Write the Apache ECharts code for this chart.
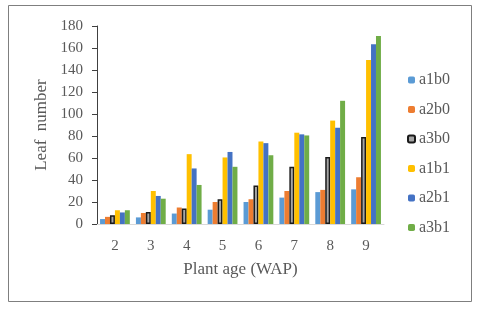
<!DOCTYPE html>
<html>
<head>
<meta charset="utf-8">
<script src="https://cdn.jsdelivr.net/npm/echarts@6/dist/echarts.min.js"></script>
<style>html,body{margin:0;padding:0;background:#fff}#c{width:480px;height:309px}</style>
</head>
<body>
<div id="c"></div>
<script>
var categories = ['2','3','4','5','6','7','8','9'];
var yTicks = [0,20,40,60,80,100,120,140,160,180];
var a1b0 = [4.5, 6, 9.5, 13, 20, 24, 29, 31.5];
var a2b0 = [6.5, 10, 15, 20, 22.5, 30, 31, 42.5];
var a3b0 = [8, 11, 14, 22.5, 35, 52, 61, 79];
var a1b1 = [12.5, 30, 63.5, 60.5, 75, 83, 94, 149];
var a2b1 = [10.5, 25.5, 50.5, 65.5, 73.5, 81.5, 87.5, 163.5];
var a3b1 = [12.5, 23, 35.5, 52, 62.5, 80.5, 112, 171];

var font = '"Liberation Serif", "Times New Roman", serif';
var txt = '#595959';
var chart = echarts.init(document.getElementById('c'), null, {renderer:'canvas'});
function s(name, data, color, extra){
  var it = {color: color};
  if (extra) { it.borderColor = '#1a1a1a'; it.borderWidth = 1.5; }
  return {name: name, type: 'bar', data: data, itemStyle: it, barGap: '0%', barCategoryGap: '17%'};
}
chart.setOption({
  animation: false,
  textStyle: {fontFamily: font},
  graphic: [{type:'rect', shape:{x:8.5,y:5.5,width:463,height:296}, style:{fill:'none', stroke:'#7f7f7f', lineWidth:1}}],
  grid: {left: 97, right: 96, top: 26, bottom: 85},
  legend: {
    orient: 'vertical', left: 402, top: 67, itemWidth: 7, itemHeight: 7, itemGap: 13.5,
    textStyle: {fontFamily: font, fontSize: 16, color: txt, padding:[0,0,0,-1]},
    data: ['a1b0','a2b0','a3b0','a1b1','a2b1','a3b1']
  },
  xAxis: {
    type: 'category', data: categories,
    name: 'Plant age (WAP)', nameLocation: 'middle', nameGap: 37,
    nameTextStyle: {fontFamily: font, fontSize: 17, color: txt},
    axisLine: {lineStyle: {color: '#d9d9d9', width: 1}},
    axisTick: {show: false},
    axisLabel: {fontFamily: font, fontSize: 15, color: txt, margin: 15}
  },
  yAxis: {
    type: 'value', min: 0, max: 180, interval: 20,
    name: 'Leaf  number', nameLocation: 'middle', nameGap: 45,
    nameTextStyle: {fontFamily: font, fontSize: 17, color: txt},
    axisLine: {show: true, lineStyle: {color: '#404040', width: 1}},
    axisTick: {show: true, length: 5, lineStyle: {color: '#404040'}},
    splitLine: {show: false},
    axisLabel: {fontFamily: font, fontSize: 15, color: txt, margin: 14,
      formatter: function(v){ return yTicks.indexOf(v) >= 0 ? String(v) : ''; }}
  },
  series: [
    s('a1b0', a1b0, '#5B9BD5'),
    s('a2b0', a2b0, '#ED7D31'),
    s('a3b0', a3b0, '#A5A5A5', true),
    s('a1b1', a1b1, '#FFC000'),
    s('a2b1', a2b1, '#4472C4'),
    s('a3b1', a3b1, '#70AD47')
  ]
});
</script>
</body>
</html>
